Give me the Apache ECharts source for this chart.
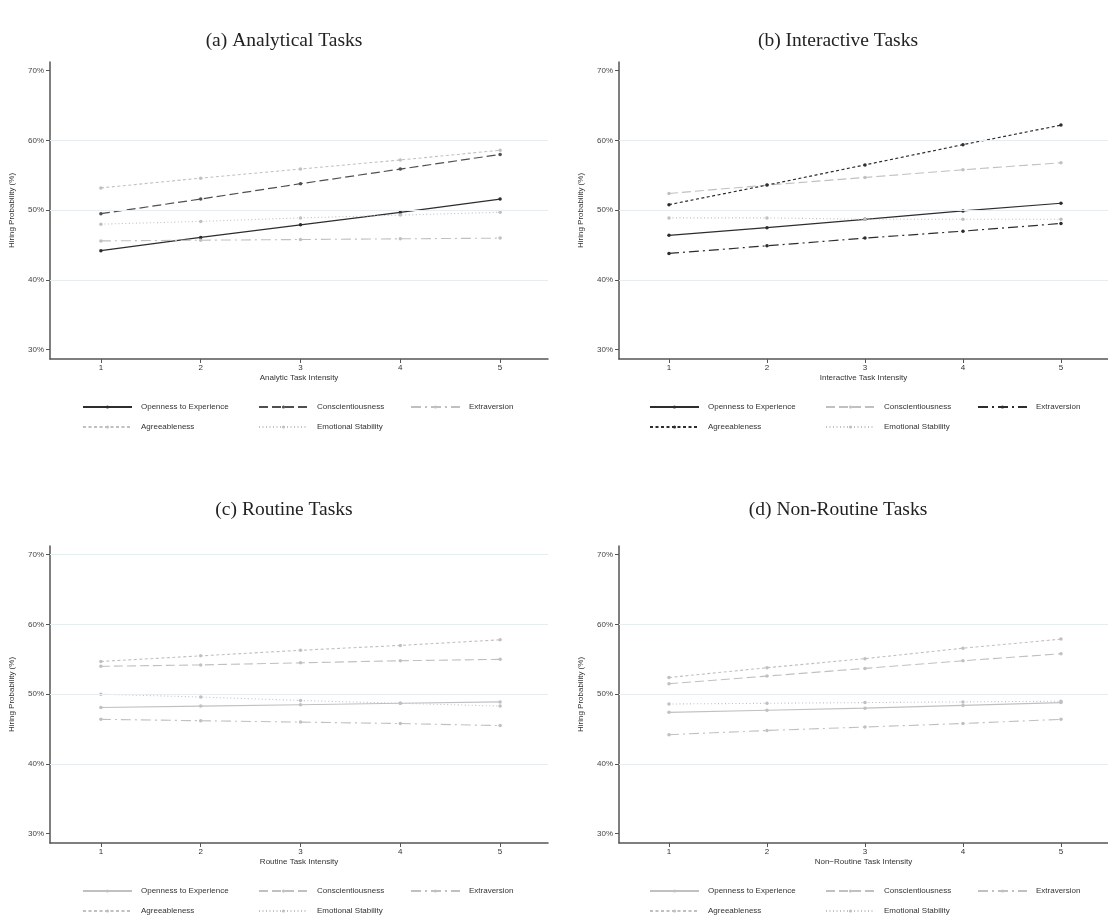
<!DOCTYPE html>
<html>
<head>
<meta charset="utf-8">
<script src="https://cdn.jsdelivr.net/npm/echarts@6/dist/echarts.min.js"></script>
<style>
html,body{margin:0;padding:0;background:#fff;}
#chart{width:1108px;height:922px;}
</style>
</head>
<body>
<div id="chart"></div>
<script>
// ---------- data ----------
const intensity = [1, 2, 3, 4, 5];
const traits = ['Openness to Experience', 'Conscientiousness', 'Extraversion', 'Agreeableness', 'Emotional Stability'];
const yTicks = [30, 40, 50, 60, 70];
const panelTitles = ['(a) Analytical Tasks', '(b) Interactive Tasks', '(c) Routine Tasks', '(d) Non-Routine Tasks'];
const xAxisNames = ['Analytic Task Intensity', 'Interactive Task Intensity', 'Routine Task Intensity', 'Non\u2212Routine Task Intensity'];

// (a) Analytical
const analyticOpenness = [44.2, 46.1, 47.9, 49.7, 51.6];
const analyticConsc    = [49.5, 51.6, 53.8, 55.9, 58.0];
const analyticExtra    = [45.6, 45.7, 45.8, 45.9, 46.0];
const analyticAgree    = [53.2, 54.6, 55.9, 57.2, 58.6];
const analyticEmoStab  = [48.0, 48.4, 48.9, 49.3, 49.7];
// (b) Interactive
const interOpenness = [46.4, 47.5, 48.7, 49.9, 51.0];
const interConsc    = [52.4, 53.6, 54.7, 55.8, 56.8];
const interExtra    = [43.8, 44.9, 46.0, 47.0, 48.1];
const interAgree    = [50.8, 53.6, 56.5, 59.4, 62.2];
const interEmoStab  = [48.9, 48.9, 48.7, 48.7, 48.7];
// (c) Routine
const routineOpenness = [48.1, 48.3, 48.5, 48.7, 48.9];
const routineConsc    = [54.0, 54.2, 54.5, 54.8, 55.0];
const routineExtra    = [46.4, 46.2, 46.0, 45.8, 45.5];
const routineAgree    = [54.7, 55.5, 56.3, 57.0, 57.8];
const routineEmoStab  = [50.0, 49.6, 49.1, 48.7, 48.3];
// (d) Non-Routine
const nonRoutineOpenness = [47.4, 47.7, 48.0, 48.4, 48.8];
const nonRoutineConsc    = [51.5, 52.6, 53.7, 54.8, 55.8];
const nonRoutineExtra    = [44.2, 44.8, 45.3, 45.8, 46.4];
const nonRoutineAgree    = [52.4, 53.8, 55.1, 56.6, 57.9];
const nonRoutineEmoStab  = [48.6, 48.7, 48.8, 48.9, 49.0];

// ---------- styles / layout ----------
const DARK = '#2d2d2d', MID = '#4f4f4f', LIGHT = '#c0c0c0';
const traitDash = ['solid', [9, 4], [10, 4, 2, 4], [3, 2.5], [1, 2.5]];
const SANS = '"Liberation Sans", Arial, sans-serif';
const SERIF = '"Liberation Serif", "DejaVu Serif", serif';

const panels = [
  { key: 'a', values: [analyticOpenness, analyticConsc, analyticExtra, analyticAgree, analyticEmoStab],
    colors: [DARK, MID, LIGHT, LIGHT, LIGHT], left: 50, top: 62, titleX: 279, titleY: 26, legendLeft: 82, legendTop: 408, grid: [40, 50, 60] },
  { key: 'b', values: [interOpenness, interConsc, interExtra, interAgree, interEmoStab],
    colors: [DARK, LIGHT, DARK, DARK, LIGHT], left: 619, top: 62, titleX: 833, titleY: 26, legendLeft: 649, legendTop: 408, grid: [40, 50, 60] },
  { key: 'c', values: [routineOpenness, routineConsc, routineExtra, routineAgree, routineEmoStab],
    colors: [LIGHT, LIGHT, LIGHT, LIGHT, LIGHT], left: 50, top: 546, titleX: 279, titleY: 495, legendLeft: 82, legendTop: 892, grid: [40, 50, 60, 70] },
  { key: 'd', values: [nonRoutineOpenness, nonRoutineConsc, nonRoutineExtra, nonRoutineAgree, nonRoutineEmoStab],
    colors: [LIGHT, LIGHT, LIGHT, LIGHT, LIGHT], left: 619, top: 546, titleX: 833, titleY: 495, legendLeft: 649, legendTop: 892, grid: [40, 50, 60] }
];
const GRID_W = 498, GRID_H = 297;
const legendCol = [0, 176, 328];
const legendRow = [0, 20];
const legendPos = [[0, 0], [0, 1], [0, 2], [1, 0], [1, 1]];

const option = { animation: false, backgroundColor: '#fff', title: [], grid: [], xAxis: [], yAxis: [], series: [], legend: [] };

panels.forEach((p, i) => {
  option.title.push({
    text: panelTitles[i], left: p.titleX, top: p.titleY, textAlign: 'center',
    textStyle: { fontFamily: SERIF, fontSize: 19.5, fontWeight: 'normal', color: '#222' }
  });
  option.grid.push({ left: p.left, top: p.top, width: GRID_W, height: GRID_H, containLabel: false });
  option.xAxis.push({
    type: 'value', gridIndex: i, min: 0.49, max: 5.48,
    name: xAxisNames[i], nameLocation: 'middle', nameGap: 15,
    nameTextStyle: { fontFamily: SANS, fontSize: 8, color: '#333' },
    axisLine: { show: true, onZero: false, lineStyle: { color: '#555', width: 1.5 } },
    axisTick: { show: true, length: 4, customValues: intensity, lineStyle: { color: '#555', width: 1 } },
    axisLabel: { customValues: intensity, margin: 5, fontFamily: SANS, fontSize: 8, color: '#333' },
    splitLine: { show: false }
  });
  option.yAxis.push({
    type: 'value', gridIndex: i, min: 28.67, max: 71.25,
    name: 'Hiring Probability (%)', nameLocation: 'middle', nameGap: 34, nameRotate: 90,
    nameTextStyle: { fontFamily: SANS, fontSize: 8, color: '#333' },
    axisLine: { show: true, onZero: false, lineStyle: { color: '#555', width: 1.5 } },
    axisTick: { show: true, length: 4, customValues: yTicks, lineStyle: { color: '#555', width: 1 } },
    axisLabel: { customValues: yTicks, margin: 6, fontFamily: SANS, fontSize: 8, color: '#444',
      formatter: v => v + '%' },
    splitLine: { show: false }
  });
  // gridlines
  option.series.push({
    type: 'line', name: p.key + '|grid', xAxisIndex: i, yAxisIndex: i, data: [], z: 1, silent: true,
    markLine: { silent: true, symbol: ['none', 'none'], label: { show: false }, animation: false,
      lineStyle: { color: '#e5eeee', type: 'solid', width: 1 },
      emphasis: { disabled: true },
      data: p.grid.map(v => ({ yAxis: v })) }
  });
  traits.forEach((t, k) => {
    const nm = p.key + '|' + t;
    option.series.push({
      type: 'line', name: nm, xAxisIndex: i, yAxisIndex: i, z: 3,
      data: intensity.map((x, j) => [x, p.values[k][j]]),
      symbol: 'circle', symbolSize: 3.5, showSymbol: true,
      color: p.colors[k],
      itemStyle: { color: p.colors[k] },
      lineStyle: { color: p.colors[k], width: p.colors[k] === LIGHT ? 1.1 : 1.2, type: traitDash[k] },
      emphasis: { disabled: true }
    });
    const pos = legendPos[k];
    option.legend.push({
      data: [nm], left: p.legendLeft + legendCol[pos[1]], top: p.legendTop + legendRow[pos[0]] - 5,
      padding: 0, itemWidth: 49, itemHeight: 4, selectedMode: false,
      formatter: n => n.split('|')[1],
      textStyle: { fontFamily: SANS, fontSize: 8, color: '#333', padding: [0, 0, 0, 4] }
    });
  });
});

const chart = echarts.init(document.getElementById('chart'), null, { renderer: 'canvas' });
chart.setOption(option);
</script>
</body>
</html>
